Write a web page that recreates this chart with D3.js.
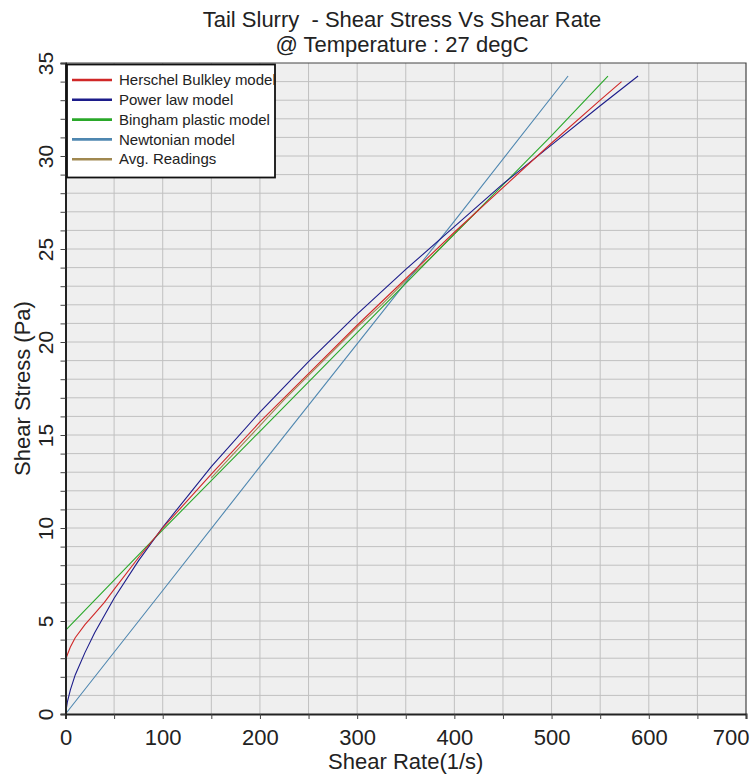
<!DOCTYPE html>
<html lang="en">
	<head>
		<meta charset="utf-8">
		<title>Tail Slurry - Shear Stress Vs Shear Rate</title>
		<script src="https://cdn.jsdelivr.net/npm/d3@7/dist/d3.min.js"></script>
		<style>
			body { margin: 0; background: #fff; }
			svg { display: block; font-family: "Liberation Sans", Arial, sans-serif; }
		</style>
	</head>
	<body>
		<div id="chart"></div>
		<script type="text/javascript">

		// Readings taken off the chart (shear rate 1/s, shear stress Pa)
		var hbRate = [0, 2, 5, 10, 20, 30, 40, 50, 75, 100, 150, 200, 250, 300, 350, 400, 450, 500, 550, 572];
		var hbStress = [2.9, 3.2, 3.6, 4.1, 4.8, 5.4, 6.0, 6.7, 8.4, 10.0, 12.9, 15.7, 18.3, 20.9, 23.4, 25.9, 28.3, 30.7, 33.0, 34.0];

		var powerRate = [0, 2, 5, 10, 20, 30, 50, 75, 100, 150, 200, 250, 300, 350, 400, 450, 500, 550, 589];
		var powerStress = [0, 0.67, 1.3, 2.1, 3.3, 4.37, 6.22, 8.23, 10.04, 13.3, 16.23, 18.94, 21.5, 23.9, 26.2, 28.5, 30.6, 32.7, 34.3];

		var binghamRate = [0, 50, 100, 200, 300, 400, 500, 558];
		var binghamStress = [4.5, 7.2, 9.9, 15.2, 20.5, 25.8, 31.1, 34.3];

		var newtonRate = [0, 100, 200, 300, 400, 517];
		var newtonStress = [0, 6.64, 13.3, 19.9, 26.5, 34.3];

		var avgRate = [150, 175, 200, 225, 250, 275, 300, 325, 350, 375, 400, 425];
		var avgStress = [12.7, 14.1, 15.5, 16.9, 18.2, 19.5, 20.8, 22.0, 23.3, 24.5, 25.8, 27.1];

		var seriesNames = ["Herschel Bulkley model", "Power law model", "Bingham plastic model", "Newtonian model", "Avg. Readings"];
		var seriesColors = ["#d02828", "#1c1c8a", "#2aa82a", "#4f87b0", "#a08850"];

		var xTicks = [0, 100, 200, 300, 400, 500, 600, 700];
		var yTicks = [0, 5, 10, 15, 20, 25, 30, 35];

		//Width and height
		var w = 753;
		var h = 774;
		var margin = {top: 63, right: 7, bottom: 60, left: 65.5};

		var series = [
			{name: seriesNames[0], color: seriesColors[0], rate: hbRate, stress: hbStress},
			{name: seriesNames[1], color: seriesColors[1], rate: powerRate, stress: powerStress},
			{name: seriesNames[2], color: seriesColors[2], rate: binghamRate, stress: binghamStress},
			{name: seriesNames[3], color: seriesColors[3], rate: newtonRate, stress: newtonStress},
			{name: seriesNames[4], color: seriesColors[4], rate: avgRate, stress: avgStress}
		];

		var x = d3.scaleLinear()
			.domain([0, 700])
			.range([margin.left, w - margin.right]);

		var y = d3.scaleLinear()
			.domain([0, 35])
			.range([h - margin.bottom, margin.top]);

		var svg = d3.select("#chart")
			.append("svg")
			.attr("width", w)
			.attr("height", h);

		// plot background
		svg.append("rect")
			.attr("x", x(0))
			.attr("y", y(35))
			.attr("width", x(700) - x(0))
			.attr("height", y(0) - y(35))
			.attr("fill", "#efefef");

		// grid, every 50 on x and every 1 on y
		svg.append("g")
			.selectAll("line")
			.data(d3.range(50, 700, 50))
			.enter()
			.append("line")
			.attr("x1", d => x(d)).attr("x2", d => x(d))
			.attr("y1", y(0)).attr("y2", y(35))
			.attr("stroke", "#c0c0c0");

		svg.append("g")
			.selectAll("line")
			.data(d3.range(1, 35, 1))
			.enter()
			.append("line")
			.attr("x1", x(0)).attr("x2", x(700))
			.attr("y1", d => y(d)).attr("y2", d => y(d))
			.attr("stroke", "#c0c0c0");

		// top and right frame
		svg.append("path")
			.attr("d", `M${x(0)},${y(35)}H${x(700)}V${y(0)}`)
			.attr("fill", "none")
			.attr("stroke", "#444")
			.attr("stroke-width", 1.2);

		// curves
		var line = d3.line()
			.x(d => x(d[0]))
			.y(d => y(d[1]));

		svg.append("g")
			.selectAll("path")
			.data(series.slice().reverse())
			.enter()
			.append("path")
			.attr("d", s => line(s.rate.map((r, i) => [r, s.stress[i]])))
			.attr("fill", "none")
			.attr("stroke", s => s.color)
			.attr("stroke-width", 1.1);

		// x axis
		var xAxis = svg.append("g")
			.attr("transform", `translate(0,${y(0)})`)
			.call(d3.axisBottom(x)
				.tickValues(d3.range(0, 701, 50))
				.tickSize(5)
				.tickPadding(10)
				.tickFormat(d => xTicks.includes(d) ? d : ""));

		xAxis.select(".domain").attr("stroke", "#222").attr("stroke-width", 2);
		xAxis.selectAll(".tick line").attr("stroke", "#444");
		xAxis.selectAll("text")
			.attr("font-size", 22)
			.attr("fill", "#222")
			.attr("font-family", "Liberation Sans, Arial, sans-serif");

		// last label is pulled back inside the window
		xAxis.selectAll(".tick")
			.filter(d => d === 700)
			.select("text")
			.attr("text-anchor", "end")
			.attr("x", 3);

		// y axis, labels turned on their side
		var yAxis = svg.append("g")
			.attr("transform", `translate(${x(0)},0)`)
			.call(d3.axisLeft(y)
				.tickValues(d3.range(0, 36, 1))
				.tickSize(5)
				.tickFormat(d => yTicks.includes(d) ? d : ""));

		yAxis.select(".domain").attr("stroke", "#222").attr("stroke-width", 2);
		yAxis.selectAll(".tick line").attr("stroke", "#444");
		yAxis.selectAll("text")
			.attr("x", null)
			.attr("dy", null)
			.attr("text-anchor", "middle")
			.attr("dominant-baseline", "central")
			.attr("transform", "translate(-20,0) rotate(-90)")
			.attr("font-size", 21)
			.attr("fill", "#222")
			.attr("font-family", "Liberation Sans, Arial, sans-serif");

		// titles
		svg.append("text")
			.attr("x", 402)
			.attr("y", 27)
			.attr("text-anchor", "middle")
			.attr("font-size", 22)
			.attr("fill", "#222")
			.attr("xml:space", "preserve")
			.text("Tail Slurry  - Shear Stress Vs Shear Rate");

		svg.append("text")
			.attr("x", 402)
			.attr("y", 52)
			.attr("text-anchor", "middle")
			.attr("font-size", 22)
			.attr("fill", "#222")
			.text("@ Temperature : 27 degC");

		svg.append("text")
			.attr("x", (x(0) + x(700)) / 2)
			.attr("y", 769)
			.attr("text-anchor", "middle")
			.attr("font-size", 22)
			.attr("fill", "#222")
			.text("Shear Rate(1/s)");

		svg.append("text")
			.attr("transform", `translate(30,${(y(0) + y(35)) / 2}) rotate(-90)`)
			.attr("text-anchor", "middle")
			.attr("font-size", 22)
			.attr("fill", "#222")
			.text("Shear Stress (Pa)");

		// legend
		var legend = svg.append("g");

		legend.append("rect")
			.attr("x", 67)
			.attr("y", 64.5)
			.attr("width", 208)
			.attr("height", 113)
			.attr("fill", "#fff")
			.attr("stroke", "#111")
			.attr("stroke-width", 1.8);

		var items = legend.selectAll("g.item")
			.data(series)
			.enter()
			.append("g")
			.attr("class", "item")
			.attr("transform", (d, i) => `translate(0,${80 + i * 19.8})`);

		items.append("line")
			.attr("x1", 72).attr("x2", 112)
			.attr("stroke", d => d.color)
			.attr("stroke-width", 2.6);

		items.append("text")
			.attr("x", 119)
			.attr("dy", "0.35em")
			.attr("font-size", 15)
			.attr("fill", "#222")
			.text(d => d.name);
		</script>
	</body>
</html>
